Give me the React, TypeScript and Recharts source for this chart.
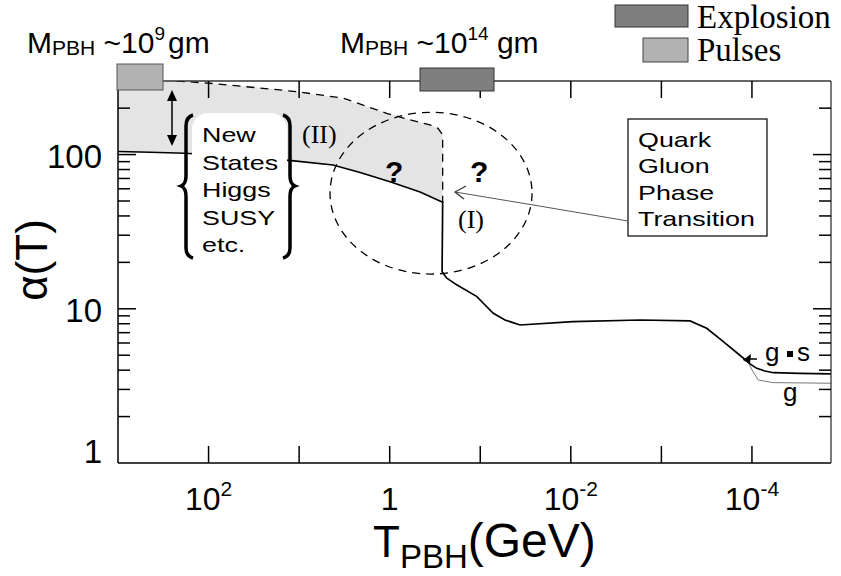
import React from 'react';
import { ComposedChart, Line, Area, XAxis, YAxis, ReferenceArea } from 'recharts';

const SANS = '"Liberation Sans", Arial, sans-serif';
const SERIF = '"Liberation Serif", "Times New Roman", serif';

// alpha(T) for g*s (T in GeV)
const mainT = [1000, 440, 182, 45, 12.1, 4.23, 2.12, 0.992, 0.462, 0.26, 0.264, 0.234, 0.182, 0.109, 0.093, 0.0718, 0.0533, 0.0364, 0.00946, 0.00172, 4.83e-4, 3.16e-4, 2.07e-4, 1.24e-4, 1.05e-4, 8.85e-5, 7.17e-5, 5.81e-5, 2.95e-5, 1.34e-5];
const mainAlpha = [104.7, 103.5, 102, 97.2, 91.3, 85.6, 76.5, 66.7, 57.2, 49.1, 17.4, 15.8, 14.3, 12.0, 10.9, 9.35, 8.46, 7.85, 8.25, 8.46, 8.34, 7.47, 6.12, 4.78, 4.39, 4.11, 3.95, 3.85, 3.81, 3.78];

// alpha(T) for g (splits off below 1e-4 GeV)
const gT = [1.24e-4, 1.10e-4, 9.98e-5, 8.51e-5, 5.81e-5, 1.34e-5];
const gAlpha = [4.78, 4.52, 4.01, 3.45, 3.32, 3.29];

// dashed upper bound of region (II)
const upperT = [225, 96.4, 30.7, 10.6, 3.25, 1.08, 0.597, 0.359, 0.293, 0.26, 0.26];
const upperAlpha = [300, 290, 272, 256, 232, 185, 168, 156, 148, 134, 49.1];

// shaded band between the g*s curve and the dashed bound
const shadeT = [1000, 440, 225, 182, 96.4, 45, 12.1, 4.23, 2.12, 0.992, 0.597, 0.462, 0.359, 0.293, 0.26];
const shadeLow = [104.7, 103.5, 102.8, 102, 100.1, 97.2, 91.3, 85.6, 76.5, 66.7, 60.3, 57.2, 53.5, 50.7, 49.1];
const shadeHigh = [300, 300, 300, 297, 290, 279, 258.5, 237, 211, 183, 168, 162, 156, 148, 134];

const xTicks = [100, 10, 1, 0.1, 0.01, 0.001, 0.0001];
const xTickLabels: Record<string, string[]> = {
  '100': ['10', '2'],
  '1': ['1', ''],
  '0.01': ['10', '-2'],
  '0.0001': ['10', '-4'],
};
const yTicks = [1, 2, 3, 4, 5, 6, 7, 8, 9, 10, 20, 30, 40, 50, 60, 70, 80, 90, 100, 200];
const yMajor = [10, 100];

const mainData = mainT.map((T, i) => ({ T, a: mainAlpha[i] }));
const gData = gT.map((T, i) => ({ T, a: gAlpha[i] }));
const upperData = upperT.map((T, i) => ({ T, a: upperAlpha[i] }));
const shadeData = shadeT.map((T, i) => ({ T, band: [shadeLow[i], shadeHigh[i]] }));

const BottomTick = (p: any) => {
  const { x, y, payload } = p;
  const lab = xTickLabels[String(payload.value)];
  return (
    <g>
      <line x1={x} x2={x} y1={y} y2={y - 17} stroke="#000" strokeWidth={1.5} />
      {lab && (
        <text x={x} y={y + 47} textAnchor="middle" fontFamily={SANS} fontSize={32} fill="#000">
          {lab[0]}
          {lab[1] && (
            <tspan dy={-14} fontSize={21}>
              {lab[1]}
            </tspan>
          )}
        </text>
      )}
    </g>
  );
};

const TopTick = (p: any) => (
  <line x1={p.x} x2={p.x} y1={p.y} y2={p.y + 17} stroke="#000" strokeWidth={1.5} />
);

const LeftTick = (p: any) => {
  const { x, y, payload } = p;
  const v = payload.value;
  const len = v === 1 ? 0 : yMajor.includes(v) ? 18 : 12;
  const label = v === 1 || v === 10 || v === 100 ? String(v) : '';
  return (
    <g>
      {len > 0 && <line x1={x} x2={x + len} y1={y} y2={y} stroke="#000" strokeWidth={1.5} />}
      {label && (
        <text x={x - 16} y={v === 1 ? y : y + 13} textAnchor="end" fontFamily={SANS} fontSize={33} fill="#000">
          {label}
        </text>
      )}
    </g>
  );
};

const RightTick = (p: any) => {
  const { x, y, payload } = p;
  const v = payload.value;
  const len = v === 1 ? 0 : yMajor.includes(v) ? 18 : 12;
  return len > 0 ? <line x1={x} x2={x - len} y1={y} y2={y} stroke="#000" strokeWidth={1.5} /> : <g />;
};

const Ellipse = (p: any) => (
  <ellipse
    cx={p.x + p.width / 2}
    cy={p.y + p.height / 2}
    rx={Math.abs(p.width) / 2}
    ry={Math.abs(p.height) / 2}
    fill="none"
    stroke="#000"
    strokeWidth={1.3}
    strokeDasharray="8 6"
  />
);

const boxLines = ['New', 'States', 'Higgs', 'SUSY', 'etc.'];
const boxBase = [142, 170, 197, 225, 252];
const qgpLines = ['Quark', 'Gluon', 'Phase', 'Transition'];
const qgpBase = [147, 173, 200, 226];

export default function App() {
  return (
    <div style={{ position: 'absolute', left: 0, top: 0, width: 841, height: 576, background: '#fff' }}>
      <ComposedChart width={841} height={576} margin={{ top: 80, right: 9, bottom: 112, left: 117 }}>
        <XAxis
          xAxisId="b"
          dataKey="T"
          type="number"
          scale="log"
          domain={[1.34e-5, 1000]}
          reversed
          allowDataOverflow
          ticks={xTicks}
          interval={0}
          height={1}
          tickSize={0}
          tickMargin={0}
          tickLine={false}
          axisLine={{ stroke: '#000', strokeWidth: 1.5 }}
          tick={(p: any) => <BottomTick {...p} />}
        />
        <XAxis
          xAxisId="t"
          orientation="top"
          dataKey="T"
          type="number"
          scale="log"
          domain={[1.34e-5, 1000]}
          reversed
          allowDataOverflow
          ticks={xTicks}
          interval={0}
          height={1}
          tickSize={0}
          tickMargin={0}
          tickLine={false}
          axisLine={{ stroke: '#333', strokeWidth: 1.3 }}
          tick={(p: any) => <TopTick {...p} />}
        />
        <YAxis
          yAxisId="l"
          type="number"
          scale="log"
          domain={[1, 300]}
          allowDataOverflow
          ticks={yTicks}
          interval={0}
          width={1}
          tickSize={0}
          tickMargin={0}
          tickLine={false}
          axisLine={{ stroke: '#000', strokeWidth: 1.5 }}
          tick={(p: any) => <LeftTick {...p} />}
        />
        <YAxis
          yAxisId="r"
          orientation="right"
          type="number"
          scale="log"
          domain={[1, 300]}
          allowDataOverflow
          ticks={yTicks}
          interval={0}
          width={1}
          tickSize={0}
          tickMargin={0}
          tickLine={false}
          axisLine={{ stroke: '#333', strokeWidth: 1.3 }}
          tick={(p: any) => <RightTick {...p} />}
        />
        <Area
          xAxisId="b"
          yAxisId="l"
          data={shadeData}
          dataKey="band"
          type="linear"
          fill="#e4e4e4"
          fillOpacity={1}
          stroke="none"
          isAnimationActive={false}
        />
        <ReferenceArea
          xAxisId="b"
          yAxisId="l"
          x1={4.56}
          x2={0.0268}
          y1={16.8}
          y2={188}
          ifOverflow="visible"
          shape={(p: any) => <Ellipse {...p} />}
        />
        <Line
          xAxisId="b"
          yAxisId="l"
          data={upperData}
          dataKey="a"
          type="linear"
          stroke="#000"
          strokeWidth={1.3}
          strokeDasharray="8 6"
          dot={false}
          activeDot={false}
          isAnimationActive={false}
        />
        <Line
          xAxisId="b"
          yAxisId="l"
          data={gData}
          dataKey="a"
          type="linear"
          stroke="#777"
          strokeWidth={1}
          dot={false}
          activeDot={false}
          isAnimationActive={false}
        />
        <Line
          xAxisId="b"
          yAxisId="l"
          data={mainData}
          dataKey="a"
          type="linear"
          stroke="#000"
          strokeWidth={1.7}
          dot={false}
          activeDot={false}
          isAnimationActive={false}
        />
      </ComposedChart>

      <svg width={841} height={576} style={{ position: 'absolute', left: 0, top: 0, pointerEvents: 'none' }}>
        {/* mass labels */}
        <text x={27} y={53} fontFamily={SANS} fontSize={30} fill="#000">
          M<tspan fontSize={21} dy={2}>PBH</tspan>
          <tspan dy={-2}> ~10</tspan>
          <tspan fontSize={19} dy={-13}>9</tspan>
          <tspan dy={13} dx={3}>gm</tspan>
        </text>
        <text x={340} y={53} fontFamily={SANS} fontSize={30} fill="#000">
          M<tspan fontSize={21} dy={2}>PBH</tspan>
          <tspan dy={-2}> ~10</tspan>
          <tspan fontSize={19} dy={-13}>14</tspan>
          <tspan dy={13}> gm</tspan>
        </text>

        {/* legend */}
        <rect x={615} y={5} width={73} height={22} fill="#7f7f7f" stroke="#333" />
        <text x={697} y={28} fontFamily={SERIF} fontSize={33} fill="#000">Explosion</text>
        <rect x={643} y={38} width={45} height={24} fill="#b2b2b2" stroke="#444" />
        <text x={697} y={61} fontFamily={SERIF} fontSize={33} fill="#000">Pulses</text>

        {/* markers on top axis */}
        <rect x={117} y={64} width={46} height={26} fill="#b2b2b2" stroke="#555" />
        <rect x={420} y={68} width={74} height={23} fill="#7f7f7f" stroke="#333" />

        {/* double arrow */}
        <line x1={172} x2={172} y1={98} y2={138} stroke="#000" strokeWidth={1.5} />
        <polygon points="172,90 167,101 177,101" fill="#000" />
        <polygon points="172,146 167,135 177,135" fill="#000" />

        {/* new states box */}
        <rect x={192} y={113} width={95} height={145} rx={16} fill="#fff" />
        <path d="M193,115 Q186,117 186,126 L186,176 Q186,184 181,186 Q186,188 186,196 L186,248 Q186,256 193,258" fill="none" stroke="#000" strokeWidth={3.5} />
        <path d="M283,115 Q290,117 290,126 L290,176 Q290,184 295,186 Q290,188 290,196 L290,248 Q290,256 283,258" fill="none" stroke="#000" strokeWidth={3.5} />
        {boxLines.map((s, i) => (
          <text key={s} transform={`translate(202 ${boxBase[i]}) scale(1.28 1)`} fontFamily={SANS} fontSize={21} fill="#000">
            {s}
          </text>
        ))}

        <text x={302} y={143} fontFamily={SERIF} fontSize={26} fill="#000">(II)</text>
        <text x={458} y={228} fontFamily={SERIF} fontSize={26} fill="#000">(I)</text>
        <text x={385} y={182} fontFamily={SANS} fontSize={30} fontWeight="bold" fill="#000">?</text>
        <text x={470} y={182} fontFamily={SANS} fontSize={30} fontWeight="bold" fill="#000">?</text>

        {/* quark gluon box */}
        <rect x={628} y={119} width={139} height={117} fill="#fff" stroke="#000" strokeWidth={1.2} />
        {qgpLines.map((s, i) => (
          <text key={s} transform={`translate(638 ${qgpBase[i]}) scale(1.28 1)`} fontFamily={SANS} fontSize={21} fill="#000">
            {s}
          </text>
        ))}
        <path d="M628,221 Q540,206 455,192" fill="none" stroke="#555" strokeWidth={1} />
        <polyline points="466,186 455,192 464,199" fill="none" stroke="#333" strokeWidth={1.2} />

        {/* g*s and g labels */}
        <line x1={743} x2={757} y1={359} y2={359} stroke="#000" strokeWidth={1.5} />
        <polygon points="743,360 751,354 750,364" fill="#000" />
        <text x={765} y={361} fontFamily={SANS} fontSize={26} fill="#000">g</text>
        <rect x={787} y={351} width={6} height={6} fill="#000" />
        <text x={797} y={361} fontFamily={SANS} fontSize={26} fill="#000">s</text>
        <text x={783} y={401} fontFamily={SANS} fontSize={26} fill="#000">g</text>

        {/* axis titles */}
        <text transform="translate(47 260) rotate(-90)" textAnchor="middle" fontFamily={SANS} fontSize={44} fill="#000">
          α(T)
        </text>
        <text x={373} y={557} fontFamily={SANS} fontSize={44} fill="#000">
          T<tspan fontSize={33} dy={11}>PBH</tspan>
          <tspan fontSize={48} dy={-11}>(GeV)</tspan>
        </text>
      </svg>
    </div>
  );
}
